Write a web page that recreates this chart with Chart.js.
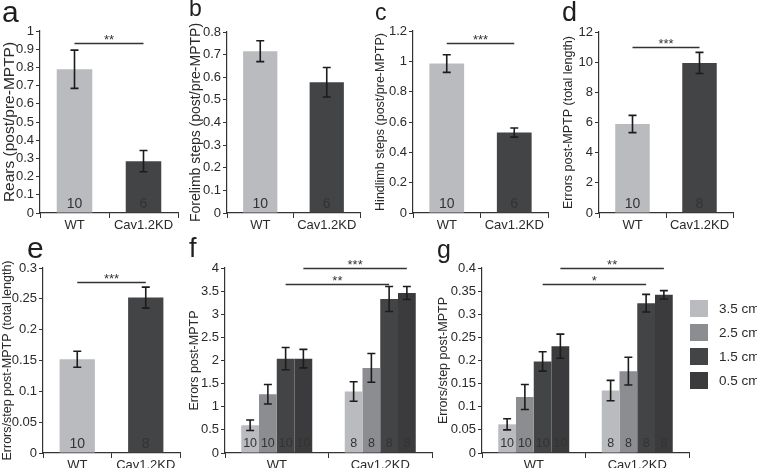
<!DOCTYPE html>
<html><head><meta charset="utf-8">
<script src="https://cdn.jsdelivr.net/npm/chart.js@4.4.1/dist/chart.umd.min.js"></script>
<style>
html,body{margin:0;padding:0;background:#fff;width:757px;height:468px;overflow:hidden;position:relative;font-family:'Liberation Sans',Arial,sans-serif;}
canvas{position:absolute;}
.lt{position:absolute;line-height:1;color:#1e1e1e;font-family:'Liberation Sans',Arial,sans-serif;white-space:nowrap;}
</style></head><body>
<canvas id="ca" width="184" height="232" style="left:0px;top:0px"></canvas>
<canvas id="cb" width="178" height="232" style="left:188px;top:0px"></canvas>
<canvas id="cc" width="181" height="232" style="left:373px;top:0px"></canvas>
<canvas id="cd" width="178" height="232" style="left:561px;top:0px"></canvas>
<canvas id="ce" width="186" height="243" style="left:0px;top:225px"></canvas>
<canvas id="cf" width="251" height="243" style="left:187px;top:225px"></canvas>
<canvas id="cg" width="321" height="243" style="left:436px;top:225px"></canvas>
<div class="lt" style="left:2px;top:-3px;font-size:30px">a</div>
<div class="lt" style="left:189px;top:-3px;font-size:23px">b</div>
<div class="lt" style="left:375px;top:1px;font-size:23px">c</div>
<div class="lt" style="left:562px;top:-1px;font-size:27px">d</div>
<div class="lt" style="left:27px;top:233px;font-size:30px">e</div>
<div class="lt" style="left:189px;top:235px;font-size:27px">f</div>
<div class="lt" style="left:437px;top:237px;font-size:25px">g</div>
<script>
// ---- data ----
const groups = ['WT', 'Cav1.2KD'];
const nRears = [10, 6];
const nWalk = [10, 8];
const rearsMean = [0.79, 0.285];
const rearsErr = [0.105, 0.058];
const foreMean = [0.715, 0.578];
const foreErr = [0.046, 0.065];
const hindMean = [0.985, 0.53];
const hindErr = [0.058, 0.03];
const errTotalMean = [5.9, 9.95];
const errTotalErr = [0.57, 0.7];
const errStepTotalMean = [0.152, 0.252];
const errStepTotalErr = [0.013, 0.017];
const widths = ['3.5 cm', '2.5 cm', '1.5 cm', '0.5 cm'];
const errMean35 = [0.60, 1.33];
const errMean25 = [1.27, 1.84];
const errMean15 = [2.04, 3.33];
const errMean05 = [2.04, 3.46];
const errSd35 = [0.115, 0.21];
const errSd25 = [0.21, 0.31];
const errSd15 = [0.24, 0.27];
const errSd05 = [0.2, 0.14];
const stepMean35 = [0.062, 0.135];
const stepMean25 = [0.121, 0.177];
const stepMean15 = [0.198, 0.324];
const stepMean05 = [0.231, 0.342];
const stepSd35 = [0.012, 0.022];
const stepSd25 = [0.027, 0.030];
const stepSd15 = [0.021, 0.019];
const stepSd05 = [0.026, 0.009];
const sigA = [{ds: 0, level: 0.935, label: '**'}];
const sigC = [{ds: 0, level: 1.12, label: '***'}];
const sigD = [{ds: 0, level: 11.0, label: '***'}];
const sigE = [{ds: 0, level: 0.277, label: '***'}];
const sigF = [{ds: 2, level: 3.65, label: '**'}, {ds: 3, level: 4.0, label: '***'}];
const sigG = [{ds: 2, level: 0.365, label: '*'}, {ds: 3, level: 0.40, label: '**'}];

// ---- style ----
const FONT = "'Liberation Sans', Arial, sans-serif";
const LIGHT = '#b9bbbe', MID = '#8c8d90', DARK = '#434446', DARKER = '#3b3b3d';
const sizeColors = [LIGHT, MID, DARK, DARKER];
const TXT = '#2a2a2a';
const TICK = 13;
Chart.defaults.font.family = FONT;
Chart.defaults.color = TXT;
Chart.defaults.animation = false;

function extras(opts) {
  return {
    id: 'extras',
    afterDatasetsDraw(chart) {
      const ctx = chart.ctx, ys = chart.scales.y;
      ctx.save();
      chart.data.datasets.forEach((ds, di) => {
        const meta = chart.getDatasetMeta(di);
        meta.data.forEach((bar, i) => {
          const v = ds.data[i];
          if (ds.counts) {
            ctx.fillStyle = '#333';
            ctx.font = opts.nFont + 'px ' + FONT;
            ctx.textAlign = 'center';
            ctx.textBaseline = 'alphabetic';
            ctx.fillText(String(ds.counts[i]), bar.x, ys.getPixelForValue(0) - opts.nOff);
          }
          if (ds.errors) {
            const e = ds.errors[i];
            const yt = ys.getPixelForValue(v + e), yb = ys.getPixelForValue(v - e);
            ctx.strokeStyle = '#1c1c1c';
            ctx.lineWidth = 1.6;
            ctx.beginPath();
            ctx.moveTo(bar.x, yt); ctx.lineTo(bar.x, yb);
            ctx.moveTo(bar.x - 4, yt); ctx.lineTo(bar.x + 4, yt);
            ctx.moveTo(bar.x - 4, yb); ctx.lineTo(bar.x + 4, yb);
            ctx.stroke();
          }
        });
      });
      (opts.sig || []).forEach(s => {
        const m = chart.getDatasetMeta(s.ds);
        const x1 = m.data[0].x, x2 = m.data[1].x;
        const yy = Math.round(ys.getPixelForValue(s.level)) + 0.5;
        ctx.strokeStyle = '#333';
        ctx.lineWidth = 1.3;
        ctx.beginPath(); ctx.moveTo(x1, yy); ctx.lineTo(x2, yy); ctx.stroke();
        ctx.fillStyle = '#333';
        ctx.font = '13px ' + FONT;
        ctx.textAlign = 'center';
        ctx.textBaseline = 'alphabetic';
        ctx.fillText(s.label, (x1 + x2) / 2, yy);
      });
      if (opts.legend) {
        const ca = chart.chartArea;
        chart.data.datasets.forEach((ds, i) => {
          const bx = ca.right + 1, by = ca.top + 32 + 24 * i;
          ctx.fillStyle = ds.backgroundColor;
          ctx.fillRect(bx, by, 18, 17);
          ctx.fillStyle = TXT;
          ctx.font = '13.5px ' + FONT;
          ctx.textAlign = 'left';
          ctx.textBaseline = 'middle';
          ctx.fillText(ds.label, bx + 29, by + 9);
        });
      }
      ctx.restore();
    }
  };
}

function yAxis(max, step, title, titleSize, width) {
  return {
    min: 0, max: max,
    ticks: {stepSize: step, autoSkip: false, padding: 2, font: {size: TICK}, color: TXT,
            callback: v => String(+v.toFixed(3))},
    grid: {drawOnChartArea: false, drawTicks: true, tickLength: 4, color: '#333', lineWidth: 1},
    border: {display: true, color: '#333', width: 1.2},
    title: {display: true, text: title, font: {size: titleSize}, color: TXT, padding: {top: 0, bottom: 0}},
    afterFit: s => { s.width = width; }
  };
}
function xAxis(h) {
  return {
    type: 'category', offset: true,
    grid: {offset: true, drawOnChartArea: false, drawTicks: true, tickLength: 5, color: '#333', lineWidth: 1},
    border: {display: true, color: '#333', width: 1.2},
    ticks: {font: {size: TICK}, color: TXT, padding: 0, maxRotation: 0, autoSkip: false},
    afterFit: s => { s.height = h; }
  };
}
function makeChart(id, datasets, yCfg, xH, padding, ex) {
  return new Chart(document.getElementById(id), {
    type: 'bar',
    data: {labels: groups, datasets: datasets},
    options: {
      responsive: false, animation: false,
      layout: {padding: padding},
      plugins: {legend: {display: false}, tooltip: {enabled: false}},
      scales: {x: xAxis(xH), y: yCfg}
    },
    plugins: [extras(ex)]
  });
}
function single(mean, err, counts) {
  return [{data: mean, errors: err, counts: counts, backgroundColor: [LIGHT, DARK],
           barPercentage: 0.515, categoryPercentage: 1, borderWidth: 0}];
}
function grouped(means, sds, counts) {
  return widths.map((w, i) => ({label: w, data: means[i], errors: sds[i], counts: counts,
    backgroundColor: sizeColors[i], barPercentage: 1, categoryPercentage: 0.686, borderWidth: 0}));
}

makeChart('ca', single(rearsMean, rearsErr, nRears),
  yAxis(1, 0.1, 'Rears (post/pre-MPTP)', 15.5, 40), 19, {top: 31, left: 0, right: 6, bottom: 0},
  {nFont: 14, nOff: 5, sig: sigA});
makeChart('cb', single(foreMean, foreErr, nRears),
  yAxis(0.8, 0.1, 'Forelimb steps (post/pre-MPTP)', 14, 39), 19, {top: 32, left: 0, right: 6, bottom: 0},
  {nFont: 14, nOff: 5, sig: []});
makeChart('cc', single(hindMean, hindErr, nRears),
  yAxis(1.2, 0.2, 'Hindlimb steps (post/pre-MPTP)', 12.5, 40), 19, {top: 31, left: 0, right: 6, bottom: 0},
  {nFont: 14, nOff: 5, sig: sigC});
makeChart('cd', single(errTotalMean, errTotalErr, nWalk),
  yAxis(12, 2, 'Errors post-MPTP (total length)', 12.5, 38), 19, {top: 32, left: 0, right: 6, bottom: 0},
  {nFont: 14, nOff: 5, sig: sigD});
makeChart('ce', single(errStepTotalMean, errStepTotalErr, nWalk),
  yAxis(0.3, 0.05, 'Errors/step post-MPTP (total length)', 12.5, 43), 15, {top: 43, left: 0, right: 6, bottom: 0},
  {nFont: 14, nOff: 5, sig: sigE});
makeChart('cf', grouped([errMean35, errMean25, errMean15, errMean05], [errSd35, errSd25, errSd15, errSd05], nWalk),
  yAxis(4, 0.5, 'Errors post-MPTP', 12.5, 38), 15, {top: 43, left: 0, right: 6, bottom: 0},
  {nFont: 12.5, nOff: 6, sig: sigF});
makeChart('cg', grouped([stepMean35, stepMean25, stepMean15, stepMean05], [stepSd35, stepSd25, stepSd15, stepSd05], nWalk),
  yAxis(0.4, 0.05, 'Errors/step post-MPTP', 12.5, 46), 15, {top: 43, left: 0, right: 68, bottom: 0},
  {nFont: 12.5, nOff: 6, sig: sigG, legend: true});
</script>
</body></html>
